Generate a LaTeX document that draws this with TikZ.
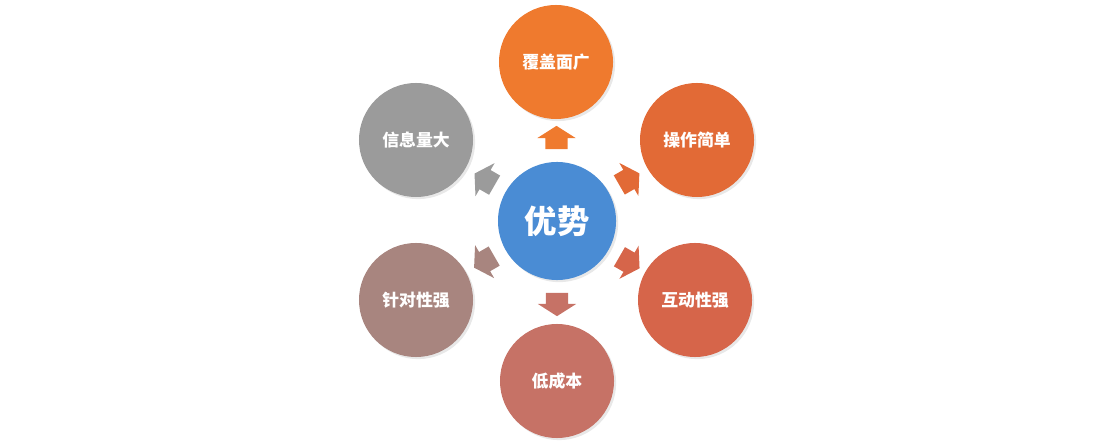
\documentclass[tikz,border=0pt]{standalone}
\usepackage{fontspec}
\newfontfamily\cjk{Noto Sans CJK SC}
\usetikzlibrary{calc,shapes.arrows,shadows}
\definecolor{coreblue}{HTML}{4A8CD4}
\definecolor{coverorange}{HTML}{EF7A2E}
\definecolor{easyorange}{HTML}{E26A36}
\definecolor{talkred}{HTML}{D6654A}
\definecolor{costred}{HTML}{C67266}
\definecolor{aimmauve}{HTML}{A8857F}
\definecolor{infogray}{HTML}{9B9B9B}

\begin{document}
\begin{tikzpicture}[x=0.025cm,y=-0.025cm]
  \tikzset{bubble/.style={circle,fill=#1,minimum size=2.85cm,inner sep=0pt,text=white,
      font=\cjk\bfseries\fontsize{12}{14}\selectfont,
      drop shadow={opacity=0.18,shadow xshift=1.5pt,shadow yshift=-1.5pt}}}
  \tikzset{pointer/.style={single arrow,fill=#1,inner xsep=0pt,inner ysep=0.27cm,
      minimum height=0.58cm,single arrow head extend=0.2cm,single arrow tip angle=115}}
  \useasboundingbox (0,0) rectangle (1108,444);
  \node[bubble=coreblue,minimum size=2.95cm,font=\cjk\bfseries\fontsize{23}{26}\selectfont] (core) at (557,221) {优势};
  \node[bubble=coverorange] (cover) at (556,62) {覆盖面广};
  \node[bubble=easyorange] (easy) at (697,140) {操作简单};
  \node[bubble=talkred] (talk) at (695,300) {互动性强};
  \node[bubble=costred] (cost) at (557,381) {低成本};
  \node[bubble=aimmauve] (aim) at (416,300) {针对性强};
  \node[bubble=infogray] (info) at (416,140) {信息量大};
  \node[pointer=coverorange,rotate=90] (tocover) at ($(core)!2cm!(cover)$) {};
  \node[pointer=easyorange,rotate=30] (toeasy) at ($(core)!2cm!(easy)$) {};
  \node[pointer=talkred,rotate=-30] (totalk) at ($(core)!2cm!(talk)$) {};
  \node[pointer=costred,rotate=-90] (tocost) at ($(core)!2cm!(cost)$) {};
  \node[pointer=aimmauve,rotate=-150] (toaim) at ($(core)!2cm!(aim)$) {};
  \node[pointer=infogray,rotate=150] (toinfo) at ($(core)!2cm!(info)$) {};
\end{tikzpicture}
\end{document}
